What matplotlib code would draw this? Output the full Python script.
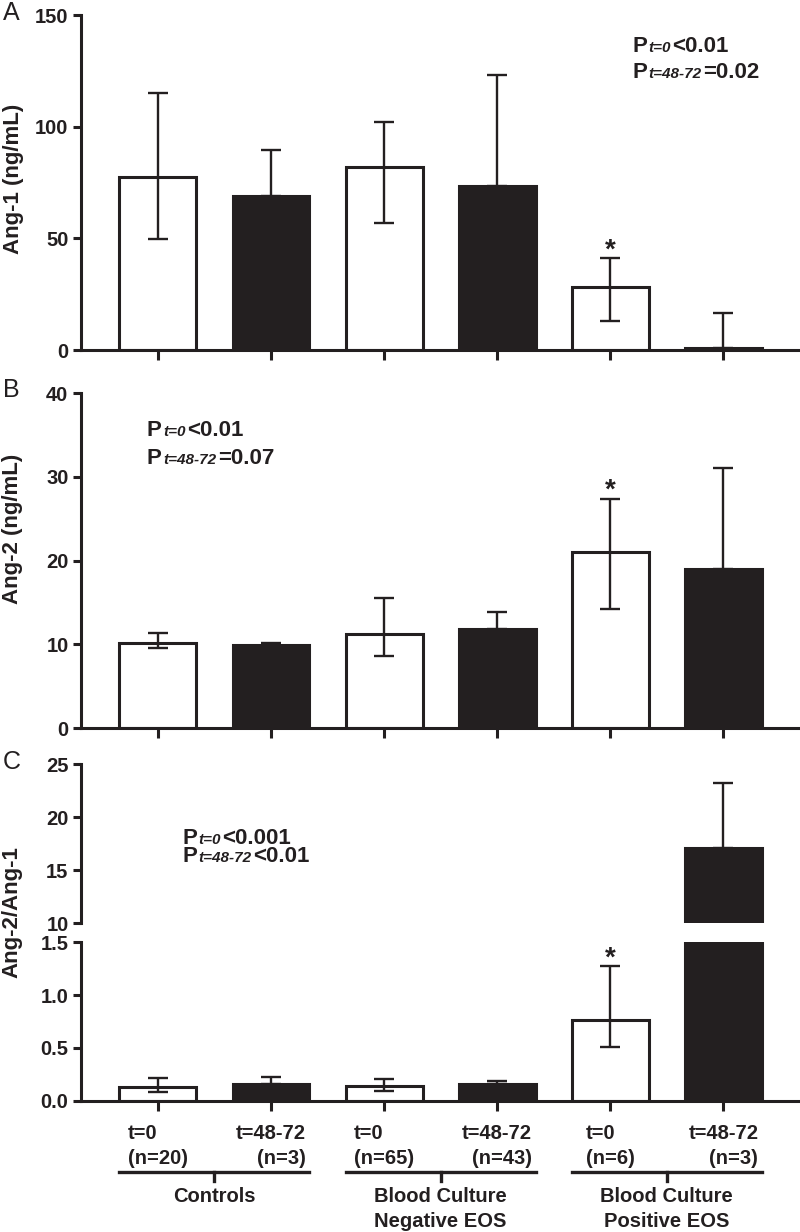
import numpy as np
import matplotlib
matplotlib.use("Agg")
import matplotlib.pyplot as plt
from matplotlib import transforms
from matplotlib.lines import Line2D
from matplotlib.offsetbox import TextArea, HPacker, AnnotationBbox

plt.rcParams['font.family'] = ['Liberation Sans', 'DejaVu Sans']

# ---------------- data ----------------
tick_labels = ["t=0\n(n=20)", "t=48-72\n(n=3)", "t=0\n(n=65)",
               "t=48-72\n(n=43)", "t=0\n(n=6)", "t=48-72\n(n=3)"]
group_labels = ["Controls", "Blood Culture\nNegative EOS", "Blood Culture\nPositive EOS"]

ang1_mean = [77.6, 69.0, 82.1, 73.5, 28.2, 1.0]
ang1_hi = [115.2, 89.7, 102.2, 123.3, 41.2, 16.6]
ang1_lo = [49.8, 69.0, 57.0, 73.5, 13.0, 1.0]

ang2_mean = [10.2, 9.9, 11.2, 11.8, 21.0, 19.0]
ang2_hi = [11.4, 10.2, 15.5, 13.9, 27.4, 31.0]
ang2_lo = [9.5, 9.9, 8.6, 11.8, 14.15, 19.0]

ratio_mean = [0.133, 0.155, 0.139, 0.155, 0.764, 17.13]
ratio_hi = [0.212, 0.227, 0.205, 0.187, 1.276, 23.27]
ratio_lo = [0.080, 0.155, 0.089, 0.155, 0.508, 17.13]

pvals_A = [("t=0", "<0.01"), ("t=48-72", "=0.02")]
pvals_B = [("t=0", "<0.01"), ("t=48-72", "=0.07")]
pvals_C = [("t=0", "<0.001"), ("t=48-72", "<0.01")]

# ---------------- style ----------------
DARK = '#231f20'
fills = ['white', DARK] * 3
x = np.arange(len(tick_labels))
BW = 0.68

W_PX, H_PX = 800, 1232
fig = plt.figure(figsize=(W_PX / 100, H_PX / 100), dpi=100)

L, Wd = 81 / W_PX, 717 / W_PX


def fy(px):
    return 1 - px / H_PX


def make_ax(top_px, bot_px):
    return fig.add_axes([L, fy(bot_px), Wd, (bot_px - top_px) / H_PX])


axA = make_ax(15, 350)
axB = make_ax(393, 728)
axCt = make_ax(764.3, 923.3)
axCb = make_ax(942.3, 1100.7)


def draw(ax, mean, lo, hi):
    mean = np.array(mean)
    ax.bar(x, mean, width=BW, color=fills, edgecolor=DARK, linewidth=2.2, zorder=2)
    yerr = [mean - np.array(lo), np.array(hi) - mean]
    ax.errorbar(x, mean, yerr=yerr, fmt='none', ecolor=DARK, elinewidth=1.7,
                capsize=7.5, capthick=1.7, zorder=3)
    ax.set_xlim(-0.68, 5.66)
    for s in ['top', 'right']:
        ax.spines[s].set_visible(False)
    for s in ['left', 'bottom']:
        ax.spines[s].set_linewidth(2.2)
        ax.spines[s].set_color(DARK)
    ax.tick_params(axis='y', direction='out', length=6, width=2.2, color=DARK,
                   labelsize=14.5, pad=3, labelcolor=DARK)
    ax.tick_params(axis='x', direction='out', length=7, width=2.2, color=DARK)
    ax.set_xticks(x)


draw(axA, ang1_mean, ang1_lo, ang1_hi)
axA.set_ylim(0, 150)
axA.set_yticks([0, 50, 100, 150])
axA.set_xticklabels([])

draw(axB, ang2_mean, ang2_lo, ang2_hi)
axB.set_ylim(0, 40)
axB.set_yticks([0, 10, 20, 30, 40])
axB.set_xticklabels([])

draw(axCt, ratio_mean, ratio_lo, ratio_hi)
axCt.set_ylim(10, 25)
axCt.set_yticks([10, 15, 20, 25])
axCt.spines['bottom'].set_visible(False)
axCt.tick_params(axis='x', bottom=False, labelbottom=False)

draw(axCb, ratio_mean, ratio_lo, ratio_hi)
axCb.set_ylim(0, 1.5)
axCb.set_yticks([0, 0.5, 1.0, 1.5])
axCb.set_yticklabels(['0.0', '0.5', '1.0', '1.5'])
axCb.spines['top'].set_visible(False)
axCb.set_xticklabels(tick_labels, fontsize=14.5, fontweight='bold', color=DARK)
axCb.tick_params(axis='x', pad=10)
for i, lab in enumerate(axCb.get_xticklabels()):
    lab.set_multialignment('left' if i % 2 == 0 else 'right')
    lab.set_linespacing(1.38)

for ax in (axA, axB, axCt, axCb):
    for lab in ax.get_yticklabels():
        lab.set_fontweight('bold')

# asterisks above t=0 positive EOS bars
for ax, hi in ((axA, ang1_hi), (axB, ang2_hi), (axCb, ratio_hi)):
    ax.annotate('*', xy=(4, hi[4]), xytext=(0, -4), textcoords='offset points',
                ha='center', va='bottom', fontsize=20, fontweight='bold', color=DARK)

# group brackets
trans = transforms.blended_transform_factory(axCb.transData, fig.transFigure)
for g, name in enumerate(group_labels):
    x0, x1 = 2 * g - BW / 2, 2 * g + 1 + BW / 2
    xc = 2 * g + 0.5
    fig.add_artist(Line2D([x0, x1], [fy(1172), fy(1172)], transform=trans,
                          color=DARK, lw=2.4))
    fig.add_artist(Line2D([xc, xc], [fy(1172), fy(1181)], transform=trans,
                          color=DARK, lw=2.4))
    fig.text(xc, fy(1187), name, transform=trans, ha='center', va='top',
             fontsize=14.5, fontweight='bold', linespacing=1.42, color=DARK)

# y labels
fig.text(14 / W_PX, fy(179), 'Ang-1 (ng/mL)', rotation=90, ha='center', va='center',
         fontsize=16, fontweight='bold', color=DARK)
fig.text(13 / W_PX, fy(529), 'Ang-2 (ng/mL)', rotation=90, ha='center', va='center',
         fontsize=16, fontweight='bold', color=DARK)
fig.text(12 / W_PX, fy(912), 'Ang-2/Ang-1', rotation=90, ha='center', va='center',
         fontsize=16, fontweight='bold', color=DARK)

# panel letters
for letter, ypx in (('A', 12.5), ('B', 390), ('C', 762)):
    fig.text(3 / W_PX, fy(ypx), letter, ha='left', va='center', fontsize=18, color=DARK)


# p-value annotations
def pline(sub, val, xpx, ypx):
    box = HPacker(children=[
        TextArea('P', textprops=dict(fontsize=16, fontweight='bold', color=DARK)),
        TextArea(sub, textprops=dict(fontsize=11, fontweight='bold', style='italic', color=DARK)),
        TextArea(val, textprops=dict(fontsize=16, fontweight='bold', color=DARK)),
    ], align='baseline', pad=0, sep=1)
    ab = AnnotationBbox(box, (xpx, H_PX - ypx), xycoords='figure pixels',
                        box_alignment=(0, 0.5), frameon=False, pad=0)
    fig.add_artist(ab)


for (sub, val), ypx in zip(pvals_A, (46, 73)):
    pline(sub, val, 632, ypx)
for (sub, val), ypx in zip(pvals_B, (430, 458)):
    pline(sub, val, 147, ypx)
for (sub, val), ypx in zip(pvals_C, (838, 857)):
    pline(sub, val, 182, ypx)

fig.savefig('out.png', dpi=100)
